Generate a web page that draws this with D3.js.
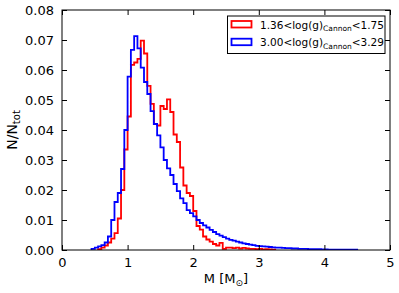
<!DOCTYPE html>
<html><head><meta charset="utf-8">
<script src="https://cdn.jsdelivr.net/npm/d3@7"></script>
<style>body{margin:0;background:#fff}svg{display:block}text{font-family:"DejaVu Sans",sans-serif}</style>
</head><body>
<svg id="c" width="399" height="293"></svg>
<script>
// ---- data ----
const binWidth = 0.05;
const redStart = 0.55;
const redValues = [0.0003,0.0008,0.0015,0.0025,0.0038,0.0056,0.0105,0.0200,0.0335,0.0445,
  0.0617,0.0625,0.0637,0.0698,0.0655,0.0547,0.0487,0.0420,0.0415,0.0480,
  0.0470,0.0502,0.0460,0.0385,0.0360,0.0275,0.0215,0.0190,0.0180,0.0130,
  0.0080,0.0068,0.0045,0.0035,0.0028,0.0020,0.0015,0.0024,0.0004,0.0008,
  0.0008,0.0006,0.0008,0.0005,0.0007,0.0005,0.0004,0.0004,0.0003,0.0004,
  0.0002,0.0003,0.0002,0.0001];
const blueStart = 0.45;
const blueValues = [0.0004,0.0008,0.0012,0.0016,0.0025,0.0045,0.0100,0.0160,0.0190,0.0270,
  0.0400,0.0578,0.0667,0.0713,0.0672,0.0608,0.0560,0.0520,0.0463,0.0420,
  0.0382,0.0342,0.0300,0.0272,0.0250,0.0220,0.0196,0.0172,0.0156,0.0133,
  0.0123,0.0112,0.0100,0.0090,0.0082,0.0075,0.0067,0.0060,0.0053,0.0048,
  0.0043,0.0038,0.0034,0.0031,0.0028,0.0025,0.0022,0.0020,0.0018,0.0016,
  0.0014,0.0013,0.0012,0.0011,0.0010,0.0009,0.0008,0.0008,0.0007,0.0006,
  0.0006,0.0005,0.0005,0.0004,0.0004,0.0004,0.0003,0.0003,0.0003,0.0003,
  0.0002,0.0002,0.0001,0.0001,0.0001,0.0001,0.0001,0.0001,0.0001,0.0001,0.0001];
const xTicks = [0,1,2,3,4,5];
const yTicks = [0,0.01,0.02,0.03,0.04,0.05,0.06,0.07,0.08];
const series = [
  {name:"red", label:["1.36<log(g)","Cannon","<1.75"], color:"#ff0000", start:redStart, values:redValues},
  {name:"blue", label:["3.00<log(g)","Cannon","<3.29"], color:"#0000ff", start:blueStart, values:blueValues}
];

// ---- layout ----
const L=62, R=390, T=10, B=250;
const x = d3.scaleLinear().domain([0,5]).range([L,R]);
const y = d3.scaleLinear().domain([0,0.08]).range([B,T]);
const svg = d3.select("#c");

svg.append("defs").append("clipPath").attr("id","clip")
  .append("rect").attr("x",L).attr("y",T).attr("width",R-L).attr("height",B-T);

const line = d3.line().x(d=>x(d[0])).y(d=>y(d[1])).curve(d3.curveStepAfter);
const g = svg.append("g").attr("clip-path","url(#clip)");
series.forEach(s=>{
  const pts=[[s.start,0]];
  s.values.forEach((v,i)=>pts.push([s.start+i*binWidth, v]));
  pts.push([s.start+s.values.length*binWidth, 0]);
  g.append("path").attr("d",line(pts)).attr("fill","none")
    .attr("stroke",s.color).attr("stroke-width",1.8).attr("stroke-linejoin","miter");
});

// frame
svg.append("rect").attr("x",L).attr("y",T).attr("width",R-L).attr("height",B-T)
  .attr("fill","none").attr("stroke","#000").attr("stroke-width",1);

// axes (ticks inward)
const tl=5;
const axB = d3.axisBottom(x).tickValues(xTicks).tickFormat(d3.format("d")).tickSizeInner(-tl).tickSizeOuter(0).tickPadding(8);
const axT = d3.axisTop(x).tickValues(xTicks).tickFormat("").tickSizeInner(-tl).tickSizeOuter(0);
const axL = d3.axisLeft(y).tickValues(yTicks).tickFormat(d3.format(".2f")).tickSizeInner(-tl).tickSizeOuter(0).tickPadding(8);
const axR = d3.axisRight(y).tickValues(yTicks).tickFormat("").tickSizeInner(-tl).tickSizeOuter(0);
[[axB,`translate(0,${B})`],[axT,`translate(0,${T})`],[axL,`translate(${L},0)`],[axR,`translate(${R},0)`]].forEach(([a,t])=>{
  const gg=svg.append("g").attr("transform",t).call(a);
  gg.select(".domain").remove();
  gg.selectAll("line").attr("stroke","#000").attr("stroke-width",1);
  gg.selectAll("text").attr("font-size",13).attr("fill","#000").attr("font-family","DejaVu Sans");
});

// axis labels
const xl = svg.append("text").attr("x",(L+R)/2).attr("y",283).attr("text-anchor","middle").attr("font-size",13);
xl.append("tspan").text("M [M");
xl.append("tspan").attr("font-size",9).attr("dy",3).text("⊙");
xl.append("tspan").attr("dy",-3).text("]");
const yl = svg.append("text").attr("transform",`translate(17,${(T+B)/2}) rotate(-90)`).attr("text-anchor","middle").attr("font-size",14);
yl.append("tspan").text("N/N");
yl.append("tspan").attr("font-size",10).attr("dy",3).text("tot");

// legend
const lg = svg.append("g");
lg.append("rect").attr("x",227.5).attr("y",16).attr("width",157.5).attr("height",37.5)
  .attr("fill","#fff").attr("stroke","#000").attr("stroke-width",1);
series.forEach((s,i)=>{
  const yy = 21 + i*17.7;
  lg.append("rect").attr("x",231.5).attr("y",yy).attr("width",20).attr("height",6.5)
    .attr("fill","none").attr("stroke",s.color).attr("stroke-width",1.8);
  const t = lg.append("text").attr("x",260).attr("y",yy+7.5).attr("font-size",10.5);
  t.append("tspan").text(s.label[0]);
  t.append("tspan").attr("font-size",7.5).attr("dy",2.5).text(s.label[1]);
  t.append("tspan").attr("dy",-2.5).text(s.label[2]);
});
</script>
</body></html>
